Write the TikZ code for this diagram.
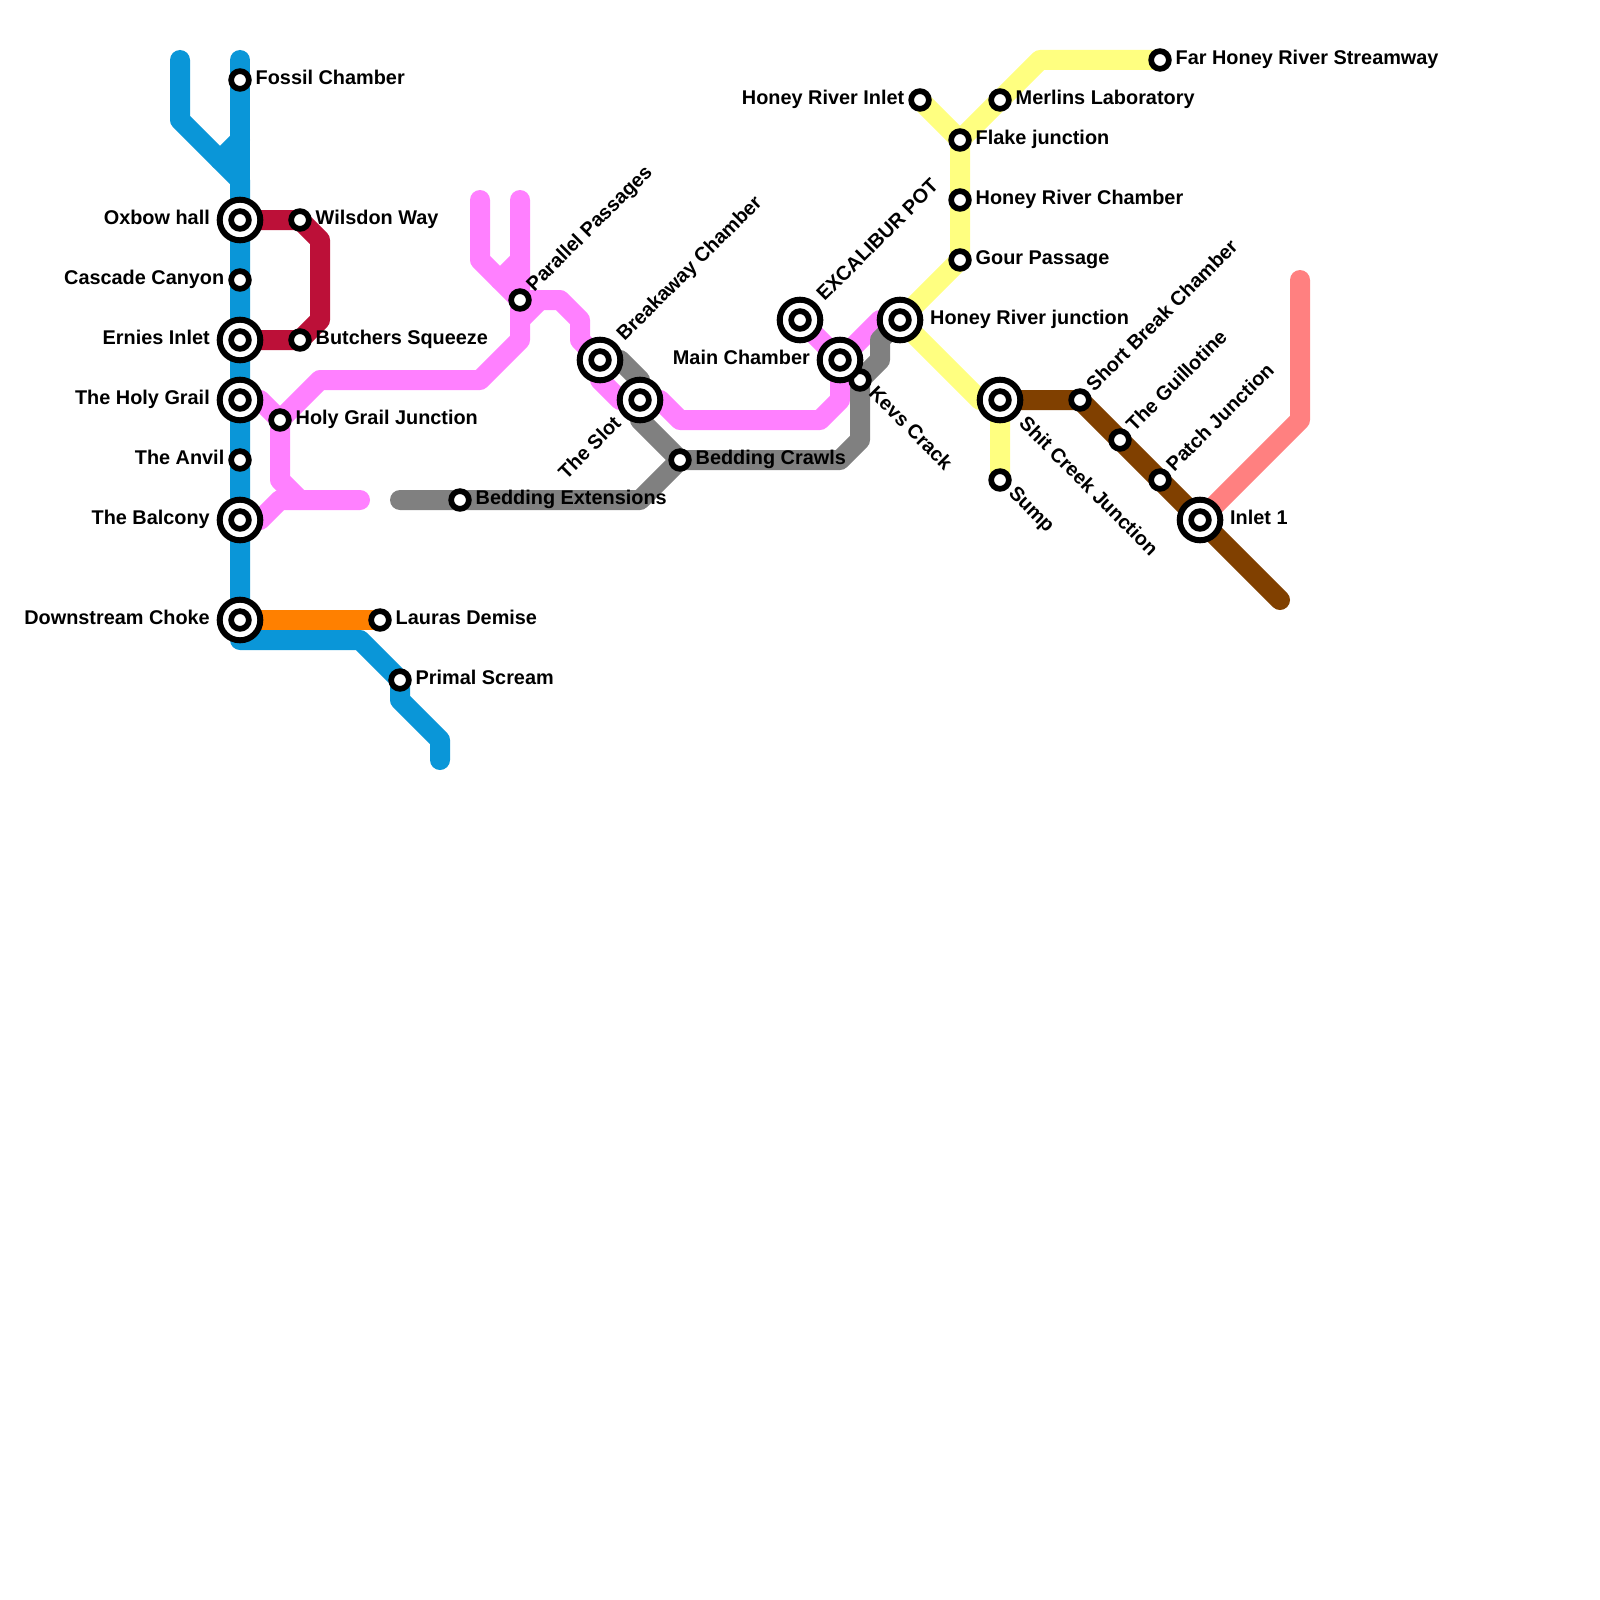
\documentclass[tikz,border=0pt]{standalone}
\usepackage{fontspec}
\setmainfont{Liberation Sans}
\usetikzlibrary{calc}
\pgfdeclarelayer{lines}
\pgfsetlayers{lines,main}
\definecolor{cavblue}{HTML}{0A96D8}
\definecolor{cavred}{HTML}{BC1038}
\definecolor{cavpink}{HTML}{FF80FF}
\definecolor{cavgrey}{HTML}{808080}
\definecolor{cavorange}{HTML}{FF8000}
\definecolor{cavyellow}{HTML}{FFFF80}
\definecolor{cavbrown}{HTML}{804000}
\definecolor{cavsalmon}{HTML}{FF8080}

\begin{document}
\begin{tikzpicture}[x=1pt, y=-1pt,
  metro/.style={line width=20pt, line cap=round, line join=round},
  stn/.style={circle, draw=black, fill=white, line width=5.7pt, minimum size=17.7pt, inner sep=0pt, outer sep=0pt},
  ring/.style={circle, draw=black, fill=white, line width=6pt, minimum size=40.6pt, inner sep=0pt, outer sep=0pt},
  lbl/.style={inner sep=0pt, font=\bfseries\fontsize{19.87}{22}\selectfont},
  lbr/.style={lbl, anchor=base west},
  lbe/.style={lbl, anchor=base east}]
\useasboundingbox (0,0) rectangle (1600,1600);
% stations
\foreach \n/\x/\y in {fossil/240/80,cascade/240/280,anvil/240/460,wilsdon/300/220,butchers/300/340,
    laura/380/620,primal/400/680,hgjunction/280/420,parallel/520/300,extensions/460/500,crawls/680/460,
    kevs/860/380,hrinlet/920/100,merlins/1000/100,flake/960/140,hrchamber/960/200,gour/960/260,
    farhoney/1160/60,sump/1000/480,shortbreak/1080/400,guillotine/1120/440,patch/1160/480}
  \node[stn] (\n) at (\x,\y) {};
\foreach \n/\x/\y in {oxbow/240/220,ernies/240/340,grail/240/400,balcony/240/520,choke/240/620,
    breakaway/600/360,slot/640/400,excalibur/800/320,mainch/840/360,hrjunction/900/320,
    shitcreek/1000/400,inletone/1200/520}
  {\node[ring] (\n) at (\x,\y) {};
   \node[stn] (\n-i) at (\n) {};}
% free line ends
\coordinate (blueA) at (180,60);
\coordinate (blueB) at (240,60);
\coordinate (blueC) at (440,760);
\coordinate (pinkA) at (480,200);
\coordinate (pinkB) at (520,200);
\coordinate (pinkC) at (360,500);
\coordinate (greyA) at (400,500);
\coordinate (brownA) at (1280,600);
\coordinate (salmonA) at (1300,280);
\begin{pgfonlayer}{lines}
\draw[metro, cavblue] (blueA) -- (180,120) -- (240,180) -- (choke.center) -- (240,640) -- (360,640) -- (primal.center) -- (400,700) -- (440,740) -- (blueC);
\draw[metro, cavblue] (blueB) -- (oxbow.center);
\draw[metro, cavblue] (240,140) -- (220,160);
\draw[metro, cavred] (oxbow.center) -- (300,220) -- (320,240) -- (320,320) -- (300,340) -- (ernies.center);
\draw[metro, cavorange] (choke.center) -- (laura.center);
\draw[metro, cavpink] (grail.center) -- (260,400) -- (hgjunction.center) -- (320,380) -- (480,380) -- (520,340) -- (pinkB);
\draw[metro, cavpink] (520,260) -- (500,280);
\draw[metro, cavpink] (hgjunction.center) -- (280,480) -- (300,500);
\draw[metro, cavpink] (balcony.center) -- (260,520) -- (280,500) -- (pinkC);
\draw[metro, cavpink] (pinkA) -- (480,260) -- (parallel.center) -- (540,300) -- (560,300) -- (580,320) -- (580,340) -- (breakaway.center) -- (600,380) -- (620,400) -- (660,400) -- (680,420) -- (820,420) -- (840,400) -- (mainch.center) -- (880,320) -- (hrjunction.center);
\draw[metro, cavpink] (520,320) -- (540,300);
\draw[metro, cavpink] (excalibur.center) -- (mainch.center);
\draw[metro, cavgrey] (greyA) -- (640,500) -- (crawls.center) -- (840,460) -- (860,440) -- (kevs.center) -- (880,360) -- (880,340) -- (hrjunction.center);
\draw[metro, cavgrey] (breakaway.center) -- (620,360) -- (640,380) -- (640,420) -- (crawls.center);
\draw[metro, cavyellow] (hrinlet.center) -- (flake.center) -- (gour.center) -- (hrjunction.center) -- (980,400) -- (shitcreek.center) -- (sump.center);
\draw[metro, cavyellow] (flake.center) -- (1040,60) -- (farhoney.center);
\draw[metro, cavsalmon] (inletone.center) -- (1300,420) -- (salmonA);
\draw[metro, cavbrown] (shitcreek.center) -- (shortbreak.center) -- (brownA);
\end{pgfonlayer}
% labels
\foreach \n/\t in {fossil/Fossil Chamber,wilsdon/Wilsdon Way,butchers/Butchers Squeeze,laura/Lauras Demise,
    primal/Primal Scream,hgjunction/Holy Grail Junction,extensions/Bedding Extensions,crawls/Bedding Crawls,
    merlins/Merlins Laboratory,flake/Flake junction,hrchamber/Honey River Chamber,gour/Gour Passage,
    farhoney/Far Honey River Streamway}
  \node[lbr] (\n-l) at ($(\n)+(15.5pt,-4.7pt)$) {\t};
\foreach \n/\t in {hrjunction/Honey River junction,inletone/Inlet 1}
  \node[lbr] (\n-l) at ($(\n)+(30pt,-4.7pt)$) {\t};
\foreach \n/\t in {cascade/Cascade Canyon,anvil/The Anvil,hrinlet/Honey River Inlet}
  \node[lbe] (\n-l) at ($(\n)+(-15.5pt,-4.7pt)$) {\t};
\foreach \n/\t in {oxbow/Oxbow hall,ernies/Ernies Inlet,grail/The Holy Grail,balcony/The Balcony,
    choke/Downstream Choke,mainch/Main Chamber}
  \node[lbe] (\n-l) at ($(\n)+(-30pt,-4.7pt)$) {\t};
\foreach \n/\t in {parallel/Parallel Passages,shortbreak/Short Break Chamber,guillotine/The Guillotine,patch/Patch Junction}
  \node[lbr, rotate=45] (\n-l) at ($(\n)+(45:15.5pt)+(-45:4.7pt)$) {\t};
\foreach \n/\t in {breakaway/Breakaway Chamber,excalibur/EXCALIBUR POT}
  \node[lbr, rotate=45] (\n-l) at ($(\n)+(45:30pt)+(-45:4.7pt)$) {\t};
\node[lbe, rotate=45] (slot-l) at ($(slot)+(225:30pt)+(-45:4.7pt)$) {The Slot};
\foreach \n/\t in {kevs/Kevs Crack,sump/Sump}
  \node[lbr, rotate=-45] (\n-l) at ($(\n)+(-45:15.5pt)+(-135:4.7pt)$) {\t};
\node[lbr, rotate=-45] (shitcreek-l) at ($(shitcreek)+(-45:30pt)+(-135:4.7pt)$) {Shit Creek Junction};
\end{tikzpicture}
\end{document}
